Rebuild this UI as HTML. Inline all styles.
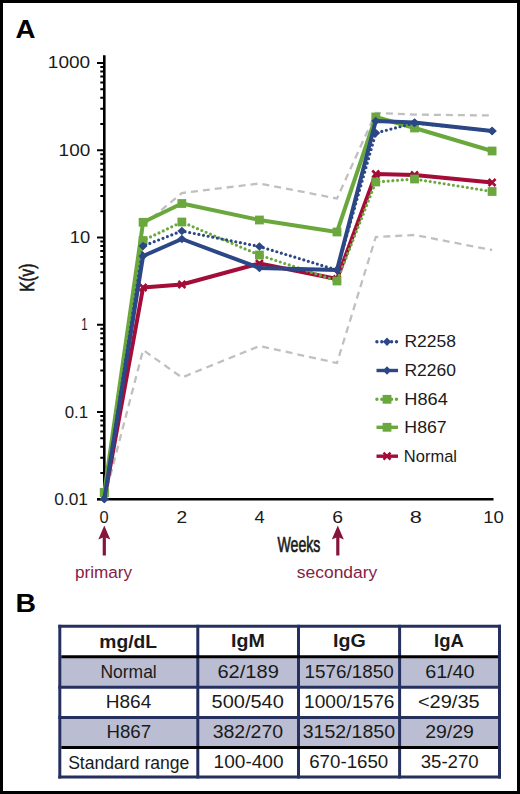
<!DOCTYPE html>
<html><head><meta charset="utf-8"><style>
html,body{margin:0;padding:0;background:#fff;}
#page{position:relative;width:520px;height:794px;box-sizing:border-box;border:3px solid #000;background:#fff;overflow:hidden;}
svg{position:absolute;left:-3px;top:-3px;font-family:"Liberation Sans",sans-serif;fill:#1a1a1a;}
</style></head><body><div id="page">
<svg width="520" height="794" viewBox="0 0 520 794">
<path d="M100.3 473.04H104 M100.3 457.67H104 M100.3 446.77H104 M100.3 438.31H104 M100.3 431.41H104 M100.3 425.57H104 M100.3 420.51H104 M100.3 416.04H104 M100.3 385.79H104 M100.3 370.42H104 M100.3 359.52H104 M100.3 351.06H104 M100.3 344.16H104 M100.3 338.32H104 M100.3 333.26H104 M100.3 328.79H104 M100.3 298.54H104 M100.3 283.17H104 M100.3 272.27H104 M100.3 263.81H104 M100.3 256.91H104 M100.3 251.07H104 M100.3 246.01H104 M100.3 241.54H104 M100.3 211.29H104 M100.3 195.92H104 M100.3 185.02H104 M100.3 176.56H104 M100.3 169.66H104 M100.3 163.82H104 M100.3 158.76H104 M100.3 154.29H104 M100.3 124.04H104 M100.3 108.67H104 M100.3 97.77H104 M100.3 89.31H104 M100.3 82.41H104 M100.3 76.57H104 M100.3 71.51H104 M100.3 67.04H104 M97 499.30H104 M97 412.05H104 M97 324.80H104 M97 237.55H104 M97 150.30H104 M97 63.05H104" stroke="#000" stroke-width="2" fill="none"/>
<path d="M104.3 55.3V500.6" stroke="#000" stroke-width="2.6" fill="none"/>
<path d="M97 499.30H493.5" stroke="#000" stroke-width="2.6" fill="none"/>
<polyline points="104.30,499 143.08,225.5 181.86,193 259.42,183.5 336.98,198.5 375.76,113 414.54,114.6 492.10,115.5" fill="none" stroke="#c0c0c0" stroke-width="2.3" stroke-dasharray="7 5"/>
<polyline points="104.30,499 143.08,350 181.86,377.5 259.42,346 336.98,363 375.76,237 414.54,235 492.10,250" fill="none" stroke="#c0c0c0" stroke-width="2.3" stroke-dasharray="7 5"/>
<polyline points="104.30,499 143.08,287.5 181.86,284.5 259.42,263.5 336.98,279 375.76,174 414.54,175 492.10,182.5" fill="none" stroke="#a30d38" stroke-width="4" stroke-linejoin="round"/>
<path d="M139.58 284.00L146.58 291.00M146.58 284.00L139.58 291.00" stroke="#a30d38" stroke-width="2.5" fill="none"/>
<path d="M178.36 281.00L185.36 288.00M185.36 281.00L178.36 288.00" stroke="#a30d38" stroke-width="2.5" fill="none"/>
<path d="M255.92 260.00L262.92 267.00M262.92 260.00L255.92 267.00" stroke="#a30d38" stroke-width="2.5" fill="none"/>
<path d="M333.48 275.50L340.48 282.50M340.48 275.50L333.48 282.50" stroke="#a30d38" stroke-width="2.5" fill="none"/>
<path d="M372.26 170.50L379.26 177.50M379.26 170.50L372.26 177.50" stroke="#a30d38" stroke-width="2.5" fill="none"/>
<path d="M411.04 171.50L418.04 178.50M418.04 171.50L411.04 178.50" stroke="#a30d38" stroke-width="2.5" fill="none"/>
<path d="M488.60 179.00L495.60 186.00M495.60 179.00L488.60 186.00" stroke="#a30d38" stroke-width="2.5" fill="none"/>
<polyline points="104.30,492.5 143.08,222.3 181.86,203.5 259.42,220 336.98,232 375.76,117 414.54,128 492.10,151" fill="none" stroke="#6aa83e" stroke-width="4" stroke-linejoin="round"/>
<rect x="99.90" y="488.10" width="8.8" height="8.8" fill="#6aa83e"/>
<rect x="138.68" y="217.90" width="8.8" height="8.8" fill="#6aa83e"/>
<rect x="177.46" y="199.10" width="8.8" height="8.8" fill="#6aa83e"/>
<rect x="255.02" y="215.60" width="8.8" height="8.8" fill="#6aa83e"/>
<rect x="332.58" y="227.60" width="8.8" height="8.8" fill="#6aa83e"/>
<rect x="371.36" y="112.60" width="8.8" height="8.8" fill="#6aa83e"/>
<rect x="410.14" y="123.60" width="8.8" height="8.8" fill="#6aa83e"/>
<rect x="487.70" y="146.60" width="8.8" height="8.8" fill="#6aa83e"/>
<polyline points="104.30,492.5 143.08,240.5 181.86,222 259.42,255 336.98,281 375.76,182 414.54,179 492.10,191.5" fill="none" stroke="#6aa83e" stroke-width="3.2" stroke-linecap="round" stroke-linejoin="round" stroke-dasharray="0 4.7"/>
<rect x="99.90" y="488.10" width="8.8" height="8.8" fill="#6aa83e"/>
<rect x="138.68" y="236.10" width="8.8" height="8.8" fill="#6aa83e"/>
<rect x="177.46" y="217.60" width="8.8" height="8.8" fill="#6aa83e"/>
<rect x="255.02" y="250.60" width="8.8" height="8.8" fill="#6aa83e"/>
<rect x="332.58" y="276.60" width="8.8" height="8.8" fill="#6aa83e"/>
<rect x="371.36" y="177.60" width="8.8" height="8.8" fill="#6aa83e"/>
<rect x="410.14" y="174.60" width="8.8" height="8.8" fill="#6aa83e"/>
<rect x="487.70" y="187.10" width="8.8" height="8.8" fill="#6aa83e"/>
<polyline points="104.30,499 143.08,256 181.86,239 259.42,268 336.98,270 375.76,121 414.54,122.5 492.10,131" fill="none" stroke="#2b4785" stroke-width="4" stroke-linejoin="round"/>
<path d="M104.30 494.70L108.80 499.00L104.30 503.30L99.80 499.00Z" fill="#2b4785"/>
<path d="M143.08 251.70L147.58 256.00L143.08 260.30L138.58 256.00Z" fill="#2b4785"/>
<path d="M181.86 234.70L186.36 239.00L181.86 243.30L177.36 239.00Z" fill="#2b4785"/>
<path d="M259.42 263.70L263.92 268.00L259.42 272.30L254.92 268.00Z" fill="#2b4785"/>
<path d="M336.98 265.70L341.48 270.00L336.98 274.30L332.48 270.00Z" fill="#2b4785"/>
<path d="M375.76 116.70L380.26 121.00L375.76 125.30L371.26 121.00Z" fill="#2b4785"/>
<path d="M414.54 118.20L419.04 122.50L414.54 126.80L410.04 122.50Z" fill="#2b4785"/>
<path d="M492.10 126.70L496.60 131.00L492.10 135.30L487.60 131.00Z" fill="#2b4785"/>
<polyline points="104.30,499 143.08,246 181.86,231 259.42,246.5 336.98,270 375.76,133 414.54,123 492.10,131" fill="none" stroke="#2b4785" stroke-width="3.2" stroke-linecap="round" stroke-linejoin="round" stroke-dasharray="0 4.7"/>
<path d="M104.30 494.70L108.80 499.00L104.30 503.30L99.80 499.00Z" fill="#2b4785"/>
<path d="M143.08 241.70L147.58 246.00L143.08 250.30L138.58 246.00Z" fill="#2b4785"/>
<path d="M181.86 226.70L186.36 231.00L181.86 235.30L177.36 231.00Z" fill="#2b4785"/>
<path d="M259.42 242.20L263.92 246.50L259.42 250.80L254.92 246.50Z" fill="#2b4785"/>
<path d="M336.98 265.70L341.48 270.00L336.98 274.30L332.48 270.00Z" fill="#2b4785"/>
<path d="M375.76 128.70L380.26 133.00L375.76 137.30L371.26 133.00Z" fill="#2b4785"/>
<path d="M414.54 118.70L419.04 123.00L414.54 127.30L410.04 123.00Z" fill="#2b4785"/>
<path d="M492.10 126.70L496.60 131.00L492.10 135.30L487.60 131.00Z" fill="#2b4785"/>
<path d="M376.9 341.7H398" stroke="#2b4785" stroke-width="3.4" stroke-linecap="round" stroke-dasharray="0 4.9" fill="none"/>
<path d="M387.00 337.50L391.10 341.70L387.00 345.90L382.90 341.70Z" fill="#2b4785"/>
<path d="M376.5 370.5H398" stroke="#2b4785" stroke-width="3.4" fill="none"/>
<path d="M387.00 366.30L391.10 370.50L387.00 374.70L382.90 370.50Z" fill="#2b4785"/>
<path d="M376.9 399.3H398" stroke="#6aa83e" stroke-width="3.4" stroke-linecap="round" stroke-dasharray="0 4.9" fill="none"/>
<rect x="382.60" y="394.90" width="8.8" height="8.8" fill="#6aa83e"/>
<path d="M376.5 427.3H398" stroke="#6aa83e" stroke-width="3.4" fill="none"/>
<rect x="382.60" y="422.90" width="8.8" height="8.8" fill="#6aa83e"/>
<path d="M376.5 456.2H398" stroke="#a30d38" stroke-width="3.4" fill="none"/>
<path d="M383.50 452.70L390.50 459.70M390.50 452.70L383.50 459.70" stroke="#a30d38" stroke-width="2.5" fill="none"/>
<path d="M104.3 555.5V536" stroke="#86143a" stroke-width="3.2" fill="none"/>
<path d="M104.3 525.4L110.3 539.5L104.3 537L98.3 539.5Z" fill="#86143a"/>
<path d="M337.8 555.5V536" stroke="#86143a" stroke-width="3.2" fill="none"/>
<path d="M337.8 525.4L343.8 539.5L337.8 537L331.8 539.5Z" fill="#86143a"/>
<text transform="translate(320.3 551.8) scale(0.64 1)" font-size="22" text-anchor="end" stroke="#1a1a1a" stroke-width="0.7">Weeks</text>
<text transform="translate(34.3 277.7) rotate(-90) scale(0.73 1)" font-size="21" text-anchor="middle" stroke="#1a1a1a" stroke-width="0.7">K(v)</text>
<rect x="59.8" y="656.8" width="439.7" height="30.40000000000009" fill="#bbbed3"/>
<rect x="59.8" y="717.4" width="439.7" height="30.0" fill="#bbbed3"/>
<path d="M59.8 624.8V778.5" stroke="#26305f" stroke-width="3"/>
<path d="M197.8 624.8V778.5" stroke="#26305f" stroke-width="3"/>
<path d="M298.5 624.8V778.5" stroke="#26305f" stroke-width="3"/>
<path d="M399.6 624.8V778.5" stroke="#26305f" stroke-width="3"/>
<path d="M499.5 624.8V778.5" stroke="#26305f" stroke-width="3"/>
<path d="M58.3 626.3H501.0" stroke="#26305f" stroke-width="3"/>
<path d="M61.3 656.8H498.0" stroke="#000" stroke-width="3"/>
<path d="M58.3 687.2H501.0" stroke="#26305f" stroke-width="3"/>
<path d="M58.3 717.4H501.0" stroke="#26305f" stroke-width="3"/>
<path d="M61.3 747.4H498.0" stroke="#000" stroke-width="3"/>
<path d="M58.3 777.0H501.0" stroke="#26305f" stroke-width="3"/>
<text x="15.41" y="38.25" font-size="26.3" font-weight="bold" fill="#000" textLength="19.98" lengthAdjust="spacingAndGlyphs" >A</text>
<text x="15.41" y="611.85" font-size="26.3" font-weight="bold" fill="#000" textLength="20.54" lengthAdjust="spacingAndGlyphs" >B</text>
<text x="47.82" y="68.30" font-size="17.2" font-weight="normal" fill="#1a1a1a" textLength="42.34" lengthAdjust="spacingAndGlyphs" >1000</text>
<text x="58.62" y="155.50" font-size="17.2" font-weight="normal" fill="#1a1a1a" textLength="31.64" lengthAdjust="spacingAndGlyphs" >100</text>
<text x="69.87" y="243.00" font-size="17.2" font-weight="normal" fill="#1a1a1a" textLength="20.40" lengthAdjust="spacingAndGlyphs" >10</text>
<text x="81.27" y="330.30" font-size="17.2" font-weight="normal" fill="#1a1a1a" textLength="6.38" lengthAdjust="spacingAndGlyphs" >1</text>
<text x="64.71" y="417.70" font-size="17.2" font-weight="normal" fill="#1a1a1a" textLength="23.48" lengthAdjust="spacingAndGlyphs" >0.1</text>
<text x="54.30" y="505.00" font-size="17.2" font-weight="normal" fill="#1a1a1a" textLength="33.71" lengthAdjust="spacingAndGlyphs" >0.01</text>
<text x="99.42" y="522.90" font-size="17.2" font-weight="normal" fill="#1a1a1a" textLength="9.11" lengthAdjust="spacingAndGlyphs" >0</text>
<text x="176.57" y="522.90" font-size="17.2" font-weight="normal" fill="#1a1a1a" textLength="10.64" lengthAdjust="spacingAndGlyphs" >2</text>
<text x="254.53" y="522.90" font-size="17.2" font-weight="normal" fill="#1a1a1a" textLength="10.20" lengthAdjust="spacingAndGlyphs" >4</text>
<text x="332.16" y="522.90" font-size="17.2" font-weight="normal" fill="#1a1a1a" textLength="10.76" lengthAdjust="spacingAndGlyphs" >6</text>
<text x="409.65" y="522.90" font-size="17.2" font-weight="normal" fill="#1a1a1a" textLength="12.07" lengthAdjust="spacingAndGlyphs" >8</text>
<text x="483.25" y="522.90" font-size="17.2" font-weight="normal" fill="#1a1a1a" textLength="20.62" lengthAdjust="spacingAndGlyphs" >10</text>
<text x="404.40" y="347.15" font-size="16.8" font-weight="normal" fill="#1a1a1a" textLength="51.54" lengthAdjust="spacingAndGlyphs" >R2258</text>
<text x="404.40" y="376.05" font-size="16.8" font-weight="normal" fill="#1a1a1a" textLength="51.54" lengthAdjust="spacingAndGlyphs" >R2260</text>
<text x="404.35" y="404.85" font-size="16.8" font-weight="normal" fill="#1a1a1a" textLength="43.46" lengthAdjust="spacingAndGlyphs" >H864</text>
<text x="404.38" y="433.35" font-size="16.8" font-weight="normal" fill="#1a1a1a" textLength="42.34" lengthAdjust="spacingAndGlyphs" >H867</text>
<text x="403.87" y="461.85" font-size="16.8" font-weight="normal" fill="#1a1a1a" textLength="53.10" lengthAdjust="spacingAndGlyphs" >Normal</text>
<text x="74.98" y="577.75" font-size="16.8" font-weight="normal" fill="#862244" textLength="57.17" lengthAdjust="spacingAndGlyphs" >primary</text>
<text x="296.78" y="578.45" font-size="16.8" font-weight="normal" fill="#862244" textLength="80.56" lengthAdjust="spacingAndGlyphs" >secondary</text>
<text x="99.36" y="648.35" font-size="18" font-weight="bold" fill="#1a1a1a" textLength="57.77" lengthAdjust="spacingAndGlyphs" >mg/dL</text>
<text x="231.14" y="647.20" font-size="18" font-weight="bold" fill="#1a1a1a" textLength="33.72" lengthAdjust="spacingAndGlyphs" >IgM</text>
<text x="333.04" y="647.30" font-size="18" font-weight="bold" fill="#1a1a1a" textLength="32.76" lengthAdjust="spacingAndGlyphs" >IgG</text>
<text x="434.12" y="647.30" font-size="18" font-weight="bold" fill="#1a1a1a" textLength="29.80" lengthAdjust="spacingAndGlyphs" >IgA</text>
<text x="100.45" y="678.35" font-size="17.5" font-weight="normal" fill="#1a1a1a" textLength="56.30" lengthAdjust="spacingAndGlyphs" >Normal</text>
<text x="217.44" y="678.35" font-size="17.5" font-weight="normal" fill="#1a1a1a" textLength="61.36" lengthAdjust="spacingAndGlyphs" >62/189</text>
<text x="304.45" y="678.35" font-size="17.5" font-weight="normal" fill="#1a1a1a" textLength="89.24" lengthAdjust="spacingAndGlyphs" >1576/1850</text>
<text x="425.15" y="678.35" font-size="17.5" font-weight="normal" fill="#1a1a1a" textLength="49.46" lengthAdjust="spacingAndGlyphs" >61/40</text>
<text x="105.74" y="707.55" font-size="17.5" font-weight="normal" fill="#1a1a1a" textLength="45.53" lengthAdjust="spacingAndGlyphs" >H864</text>
<text x="211.64" y="708.05" font-size="17.5" font-weight="normal" fill="#1a1a1a" textLength="72.23" lengthAdjust="spacingAndGlyphs" >500/540</text>
<text x="304.03" y="708.05" font-size="17.5" font-weight="normal" fill="#1a1a1a" textLength="90.47" lengthAdjust="spacingAndGlyphs" >1000/1576</text>
<text x="417.94" y="708.05" font-size="17.5" font-weight="normal" fill="#1a1a1a" textLength="61.73" lengthAdjust="spacingAndGlyphs" >&lt;29/35</text>
<text x="106.47" y="737.65" font-size="17.5" font-weight="normal" fill="#1a1a1a" textLength="44.63" lengthAdjust="spacingAndGlyphs" >H867</text>
<text x="212.66" y="738.15" font-size="17.5" font-weight="normal" fill="#1a1a1a" textLength="70.49" lengthAdjust="spacingAndGlyphs" >382/270</text>
<text x="302.66" y="738.15" font-size="17.5" font-weight="normal" fill="#1a1a1a" textLength="92.36" lengthAdjust="spacingAndGlyphs" >3152/1850</text>
<text x="425.17" y="738.15" font-size="17.5" font-weight="normal" fill="#1a1a1a" textLength="48.72" lengthAdjust="spacingAndGlyphs" >29/29</text>
<text x="68.15" y="768.95" font-size="17.5" font-weight="normal" fill="#1a1a1a" textLength="121.21" lengthAdjust="spacingAndGlyphs" >Standard range</text>
<text x="213.64" y="768.45" font-size="17.5" font-weight="normal" fill="#1a1a1a" textLength="69.86" lengthAdjust="spacingAndGlyphs" >100-400</text>
<text x="309.20" y="768.45" font-size="17.5" font-weight="normal" fill="#1a1a1a" textLength="79.07" lengthAdjust="spacingAndGlyphs" >670-1650</text>
<text x="420.70" y="768.45" font-size="17.5" font-weight="normal" fill="#1a1a1a" textLength="58.00" lengthAdjust="spacingAndGlyphs" >35-270</text>
</svg></div></body></html>
